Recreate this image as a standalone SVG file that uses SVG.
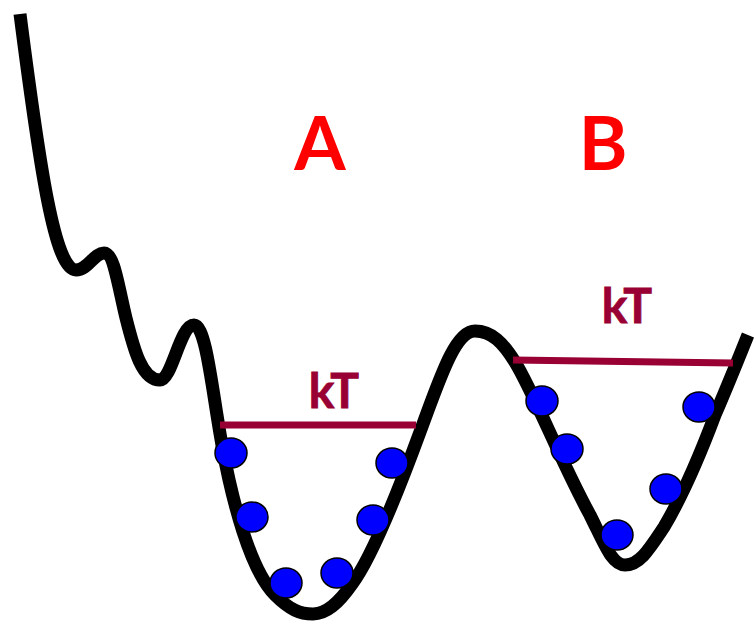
<svg xmlns="http://www.w3.org/2000/svg" width="754" height="625" viewBox="0 0 754 625">
<style>
.curve{fill:none;stroke:#000;stroke-width:13;stroke-linejoin:round}
.kt{stroke:#990033;stroke-width:7;fill:none}
.ball{fill:#0000FF;stroke:#000;stroke-width:1.5}
.lbl{font-family:Lato,"Liberation Sans",sans-serif;font-weight:bold;fill:#FF0000;font-size:74px;text-anchor:middle}
.kttxt{font-family:Lato,"Liberation Sans",sans-serif;font-weight:bold;fill:#990033;stroke:#990033;stroke-width:0.8;font-size:48px;text-anchor:middle}
</style>
<rect width="754" height="625" fill="#fff"/>
<g id="connectors">
<path id="curve" class="curve" d="M20,14 C40,170 55,270 76,270 C88,270 94,253 104,253 C114,253 118,285 126,318 C134,350 142,380 160,380 C172,380 180,325 194,325 C206,325 212,390 222,445 C232,500 250,570 275,595 C290,610 300,614 313,614 C326,614 338,604 352,584 C370,560 395,500 420,432 C440,378 455,331 475,331 C492,331 503,343 515,362 C535,395 560,460 590,515 C605,545 612,565 625,565 C640,565 650,548 664,527 C680,500 700,455 715,415 C728,385 738,360 748,335"/>
</g>
<g id="labelA"><text class="lbl" x="320" y="170">A</text></g>
<g id="labelB"><text class="lbl" x="603" y="170">B</text></g>
<g id="wellA">
<line class="kt" x1="220" y1="425" x2="416" y2="425"/>
<text class="kttxt" x="334" y="408">kT</text>
<ellipse class="ball" cx="231" cy="453" rx="16" ry="15"/>
<ellipse class="ball" cx="252" cy="517" rx="16" ry="15"/>
<ellipse class="ball" cx="286" cy="583" rx="16" ry="15"/>
<ellipse class="ball" cx="337" cy="573" rx="16" ry="15"/>
<ellipse class="ball" cx="373" cy="520" rx="16" ry="15"/>
<ellipse class="ball" cx="392" cy="463" rx="16" ry="15"/>
</g>
<g id="wellB">
<line class="kt" x1="513" y1="360" x2="733" y2="363"/>
<text class="kttxt" x="627" y="323">kT</text>
<ellipse class="ball" cx="542" cy="401" rx="16" ry="15"/>
<ellipse class="ball" cx="567" cy="449" rx="16" ry="15"/>
<ellipse class="ball" cx="617" cy="535" rx="16" ry="15"/>
<ellipse class="ball" cx="666" cy="489" rx="16" ry="15"/>
<ellipse class="ball" cx="699" cy="407" rx="16" ry="15"/>
</g>
</svg>
